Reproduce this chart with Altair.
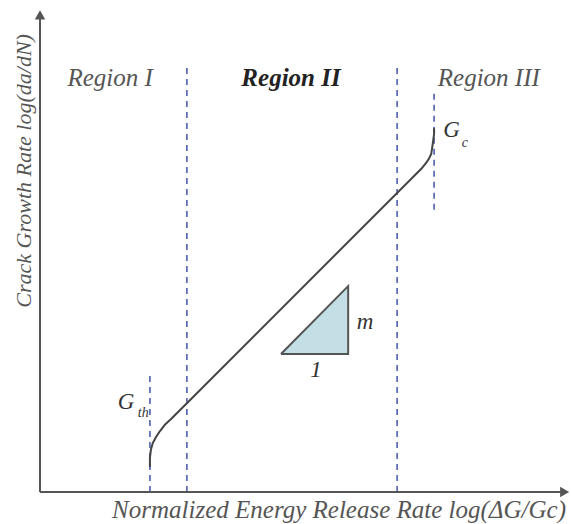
import altair as alt
import pandas as pd

# Fatigue crack growth curve (log-log), arbitrary units
curve_x = [2.29, 2.29, 2.31, 2.35, 2.42, 2.50, 2.60, 2.73, 3.06,
           7.96, 8.04, 8.10, 8.15, 8.17, 8.19, 8.21, 8.21]
curve_y = [0.52, 0.71, 0.88, 1.02, 1.15, 1.27, 1.40, 1.52, 1.85,
           6.75, 6.85, 6.94, 7.04, 7.17, 7.31, 7.46, 7.58]

# Dashed boundaries: G_th, Region I/II, Region II/III, G_c
bound_x = [2.29, 3.06, 7.44, 8.21]
bound_y0 = [0.0, 0.0, 0.0, 5.88]
bound_y1 = [2.50, 8.85, 8.85, 8.40]

# Slope triangle (run 1, rise m)
tri_x = [5.02, 6.42]
tri_y_base = 2.875
tri_y_top = 4.29

# Axis extents
x_max = 10.95
y_max = 10.0

region_labels = ["Region I", "Region II", "Region III"]
region_x = [1.46, 5.23, 9.35]
region_y = 8.63

X_DOM = [0, 11]
Y_DOM = [0, 10.083]
FONT = "Liberation Serif"
GREY = "#555555"

xs = alt.Scale(domain=X_DOM, nice=False, zero=False)
ys = alt.Scale(domain=Y_DOM, nice=False, zero=False)


def X(field="x"):
    return alt.X(f"{field}:Q", scale=xs, axis=None)


def Y(field="y"):
    return alt.Y(f"{field}:Q", scale=ys, axis=None)


curve_df = pd.DataFrame({"x": curve_x, "y": curve_y, "o": range(len(curve_x))})
bound_df = pd.DataFrame({"x": bound_x, "y": bound_y0, "y2": bound_y1})
tri_fill_df = pd.DataFrame({"x": tri_x, "y": [tri_y_base, tri_y_top], "y2": [tri_y_base, tri_y_base]})
tri_edge_df = pd.DataFrame({
    "x": [tri_x[0], tri_x[1], tri_x[1], tri_x[0]],
    "y": [tri_y_base, tri_y_base, tri_y_top, tri_y_base],
    "o": [0, 1, 2, 3],
})
axes_df = pd.DataFrame({"x": [0, 0], "y": [0, 0], "x2": [0, x_max], "y2": [y_max, 0]})
arrow_df = pd.DataFrame({"x": [0.0, x_max - 0.02], "y": [y_max - 0.06, 0.0],
                         "shape": ["triangle-up", "triangle-right"]})

axes = alt.Chart(axes_df).mark_rule(color=GREY, strokeWidth=2).encode(
    x=X(), y=Y(), x2="x2:Q", y2="y2:Q")
arrows = alt.Chart(arrow_df).mark_point(filled=True, color=GREY, opacity=1, size=110).encode(
    x=X(), y=Y(), shape=alt.Shape("shape:N", scale=None))

bounds = alt.Chart(bound_df).mark_rule(color="#4f5fb0", strokeWidth=1.6, strokeDash=[6, 5]).encode(
    x=X(), y=Y(), y2="y2:Q")

curve = alt.Chart(curve_df).mark_line(color="#444444", strokeWidth=2, strokeJoin="round").encode(
    x=X(), y=Y(), order="o:Q")

tri_fill = alt.Chart(tri_fill_df).mark_area(color="#c3dfe5", opacity=1).encode(
    x=X(), y=Y(), y2="y2:Q")
tri_edge = alt.Chart(tri_edge_df).mark_line(color=GREY, strokeWidth=2).encode(
    x=X(), y=Y(), order="o:Q")

reg_df = pd.DataFrame({"x": region_x, "y": [region_y] * 3, "t": region_labels})
reg_plain = alt.Chart(reg_df[reg_df.t != "Region II"]).mark_text(
    font=FONT, fontSize=25, fontStyle="italic", color=GREY).encode(x=X(), y=Y(), text="t:N")
reg_bold = alt.Chart(reg_df[reg_df.t == "Region II"]).mark_text(
    font=FONT, fontSize=25, fontStyle="italic", fontWeight="bold", color="#222222").encode(
    x=X(), y=Y(), text="t:N")

g_df = pd.DataFrame({"x": [1.62, 8.40], "y": [1.88, 7.54], "t": ["G", "G"]})
sub_df = pd.DataFrame({"x": [2.15, 8.85], "y": [1.65, 7.27], "t": ["th", "c"]})
g_main = alt.Chart(g_df).mark_text(font=FONT, fontSize=23, fontStyle="italic", color="#333333",
                                   align="left").encode(x=X(), y=Y(), text="t:N")
g_sub = alt.Chart(sub_df).mark_text(font=FONT, fontSize=14, fontStyle="italic", color="#333333").encode(
    x=X(), y=Y(), text="t:N")

slope_df = pd.DataFrame({"x": [6.77, 5.75], "y": [3.54, 2.55], "t": ["m", "1"]})
slope_lbl = alt.Chart(slope_df).mark_text(font=FONT, fontSize=23, fontStyle="italic", color="#333333").encode(
    x=X(), y=Y(), text="t:N")

xt_df = pd.DataFrame({"x": [6.23], "y": [-0.38], "t": ["Normalized Energy Release Rate log(ΔG/Gc)"]})
yt_df = pd.DataFrame({"x": [-0.34], "y": [6.69], "t": ["Crack Growth Rate log(da/dN)"]})
x_title = alt.Chart(xt_df).mark_text(font=FONT, fontSize=25, fontStyle="italic", color=GREY).encode(
    x=X(), y=Y(), text="t:N")
y_title = alt.Chart(yt_df).mark_text(font=FONT, fontSize=22, fontStyle="italic", color=GREY, angle=270).encode(
    x=X(), y=Y(), text="t:N")

chart = alt.layer(
    tri_fill, tri_edge, bounds, curve, axes, arrows,
    reg_plain, reg_bold, g_main, g_sub, slope_lbl, x_title, y_title,
).properties(
    width=528, height=484,
    autosize=alt.AutoSizeParams(type="none"),
    padding={"left": 40, "top": 8, "right": 3, "bottom": 32},
    background="white",
).configure_view(stroke=None)

chart.save("out.html", embed_options={"renderer": "svg", "actions": False})
